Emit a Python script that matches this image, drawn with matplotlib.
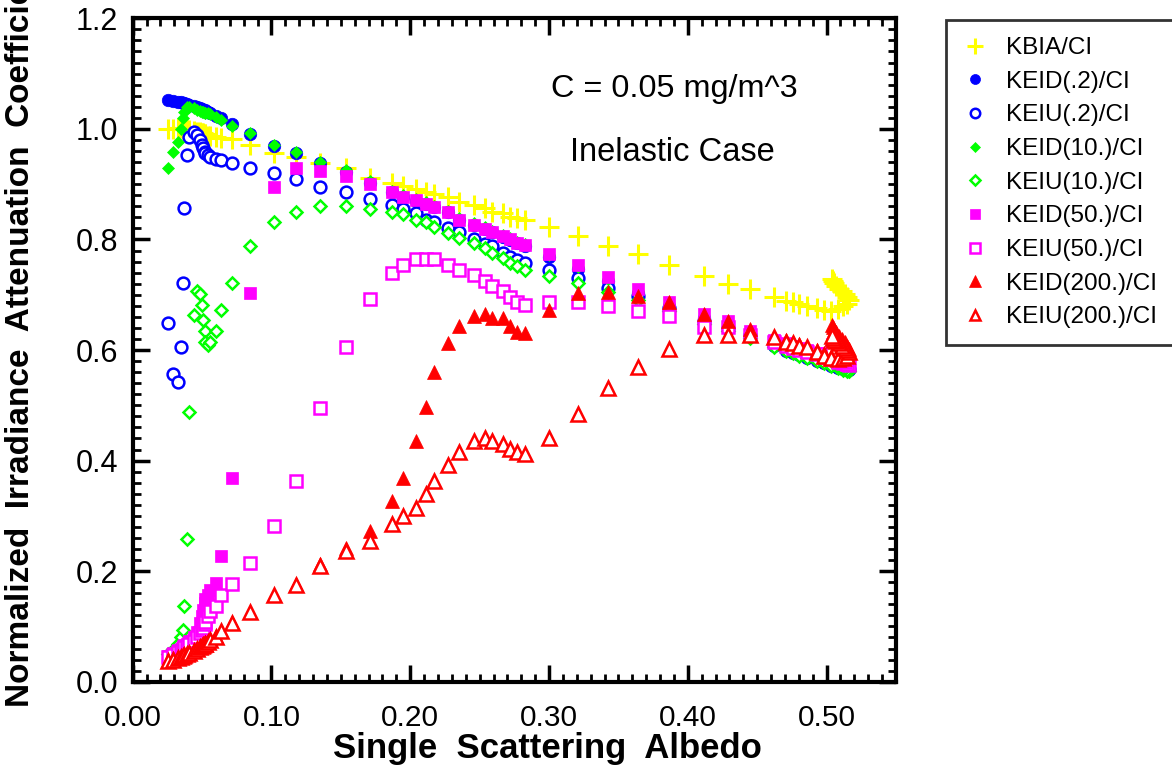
import matplotlib
matplotlib.use("Agg")
import matplotlib.pyplot as plt
from matplotlib.ticker import MultipleLocator, FormatStrFormatter

plt.rcParams['font.family'] = ['Liberation Sans', 'DejaVu Sans']

# Single scattering albedo shared by every series
albedo = [
    0.0252, 0.0288, 0.0329, 0.0348, 0.0363, 0.0372, 0.0389, 0.0404, 0.0442, 0.0460,
    0.0485, 0.0500, 0.0504, 0.0518, 0.0522, 0.0545, 0.0557, 0.0600, 0.0636,
    0.0713, 0.0845, 0.1018, 0.1174, 0.1350, 0.1540, 0.1710, 0.1866, 0.1945, 0.2040,
    0.2115, 0.2173, 0.2270, 0.2350, 0.2460, 0.2540, 0.2590, 0.2668, 0.2722, 0.2770,
    0.2830, 0.3000, 0.3212, 0.3423, 0.3638, 0.3868, 0.4120, 0.4290, 0.4450, 0.4620,
    0.4710, 0.4760, 0.4800, 0.4860, 0.4930,
    0.4980, 0.5030, 0.5080, 0.5120, 0.5150, 0.5160, 0.5150, 0.5130, 0.5110, 0.5090,
    0.5070, 0.5055, 0.5045, 0.5040,
]

kbia = [
    0.999, 1.000, 1.001, 1.001, 1.000, 0.999, 0.998, 0.998, 0.996, 0.995,
    0.994, 0.993, 0.992, 0.990, 0.990, 0.988, 0.987, 0.985, 0.983,
    0.981, 0.971, 0.957, 0.950, 0.938, 0.929, 0.911, 0.902, 0.897, 0.891,
    0.886, 0.882, 0.877, 0.868, 0.862, 0.856, 0.850, 0.847, 0.841, 0.838,
    0.835, 0.822, 0.806, 0.788, 0.773, 0.754, 0.733, 0.720, 0.711, 0.695,
    0.689, 0.686, 0.683, 0.680, 0.676,
    0.672, 0.670, 0.674, 0.679, 0.684, 0.690, 0.696, 0.701, 0.706, 0.711,
    0.716, 0.721, 0.725, 0.729,
]

keid_02 = [
    1.053, 1.051, 1.049, 1.048, 1.047, 1.046, 1.045, 1.044, 1.041, 1.040,
    1.038, 1.036, 1.035, 1.034, 1.033, 1.031, 1.029, 1.024, 1.019,
    1.008, 0.990, 0.969, 0.956, 0.938, 0.922, 0.902, 0.885, 0.877, 0.870,
    0.864, 0.858, 0.849, 0.835, 0.826, 0.819, 0.813, 0.805, 0.799, 0.793,
    0.789, 0.769, 0.747, 0.724, 0.703, 0.680, 0.658, 0.644, 0.629, 0.607,
    0.599, 0.595, 0.591, 0.585, 0.580,
    0.576, 0.571, 0.567, 0.565, 0.563, 0.563, 0.565, 0.568, 0.571, 0.574,
    0.577, 0.580, 0.583, 0.586,
]

keiu_02 = [
    0.649, 0.557, 0.542, 0.605, 0.721, 0.856, 0.953, 0.986, 0.995, 0.989,
    0.980, 0.971, 0.965, 0.959, 0.957, 0.953, 0.949, 0.946, 0.944,
    0.938, 0.929, 0.920, 0.909, 0.895, 0.885, 0.873, 0.862, 0.855, 0.847,
    0.835, 0.832, 0.820, 0.814, 0.800, 0.792, 0.788, 0.775, 0.768, 0.763,
    0.757, 0.745, 0.730, 0.712, 0.697, 0.676, 0.652, 0.640, 0.627, 0.611,
    0.602, 0.598, 0.594, 0.589, 0.584,
    0.579, 0.574, 0.570, 0.567, 0.565, 0.565, 0.567, 0.570, 0.573, 0.576,
    0.579, 0.582, 0.585, 0.588,
]

keid_10 = [
    0.929, 0.959, 0.977, 0.999, 1.019, 1.031, 1.040, 1.039, 1.037, 1.034,
    1.032, 1.031, 1.030, 1.029, 1.029, 1.028, 1.027, 1.022, 1.016,
    1.005, 0.992, 0.971, 0.959, 0.941, 0.925, 0.905, 0.888, 0.880, 0.873,
    0.867, 0.861, 0.852, 0.838, 0.829, 0.822, 0.816, 0.808, 0.802, 0.796,
    0.792, 0.772, 0.750, 0.728, 0.707, 0.684, 0.662, 0.648, 0.633, 0.612,
    0.604, 0.600, 0.596, 0.590, 0.585,
    0.580, 0.575, 0.571, 0.568, 0.566, 0.566, 0.568, 0.571, 0.574, 0.577,
    0.580, 0.583, 0.586, 0.589,
]

keiu_10 = [
    0.050, 0.058, 0.068, 0.080, 0.0935, 0.1375, 0.2576, 0.488, 0.663, 0.707,
    0.701, 0.681, 0.654, 0.634, 0.615, 0.609, 0.615, 0.634, 0.672,
    0.721, 0.788, 0.831, 0.850, 0.861, 0.861, 0.855, 0.850, 0.846, 0.836,
    0.832, 0.822, 0.812, 0.802, 0.793, 0.784, 0.775, 0.766, 0.758, 0.752,
    0.745, 0.734, 0.722, 0.705, 0.690, 0.670, 0.647, 0.635, 0.622, 0.606,
    0.598, 0.594, 0.590, 0.585, 0.580,
    0.576, 0.571, 0.567, 0.564, 0.562, 0.562, 0.564, 0.567, 0.570, 0.573,
    0.576, 0.579, 0.582, 0.585,
]

keid_50 = [
    0.047, 0.052, 0.057, 0.060, 0.063, 0.066, 0.069, 0.073, 0.080, 0.090,
    0.106, 0.118, 0.130, 0.142, 0.150, 0.157, 0.165, 0.178, 0.227,
    0.369, 0.703, 0.894, 0.929, 0.923, 0.914, 0.900, 0.885, 0.877, 0.871,
    0.865, 0.859, 0.850, 0.835, 0.826, 0.819, 0.814, 0.806, 0.800, 0.794,
    0.790, 0.774, 0.754, 0.732, 0.710, 0.686, 0.665, 0.652, 0.635, 0.618,
    0.612, 0.608, 0.604, 0.600, 0.595,
    0.590, 0.585, 0.582, 0.580, 0.578, 0.578, 0.581, 0.585, 0.589, 0.593,
    0.598, 0.602, 0.606, 0.610,
]

keiu_50 = [
    0.045, 0.049, 0.053, 0.056, 0.059, 0.062, 0.065, 0.068, 0.074, 0.080,
    0.088, 0.094, 0.098, 0.104, 0.108, 0.118, 0.127, 0.137, 0.156,
    0.176, 0.214, 0.282, 0.363, 0.495, 0.606, 0.692, 0.740, 0.754, 0.764,
    0.764, 0.764, 0.754, 0.745, 0.736, 0.725, 0.716, 0.706, 0.696, 0.687,
    0.681, 0.686, 0.686, 0.680, 0.671, 0.662, 0.642, 0.641, 0.628, 0.615,
    0.607, 0.603, 0.600, 0.597, 0.593,
    0.588, 0.583, 0.579, 0.576, 0.574, 0.573, 0.575, 0.578, 0.581, 0.584,
    0.587, 0.590, 0.593, 0.596,
]

keid_200 = [
    0.040, 0.042, 0.045, 0.047, 0.049, 0.050, 0.052, 0.054, 0.058, 0.061,
    0.064, 0.067, 0.068, 0.070, 0.071, 0.074, 0.077, 0.083, 0.092,
    0.108, 0.126, 0.157, 0.177, 0.212, 0.242, 0.272, 0.326, 0.368, 0.436,
    0.497, 0.560, 0.612, 0.643, 0.661, 0.666, 0.658, 0.658, 0.643, 0.633,
    0.630, 0.672, 0.703, 0.705, 0.698, 0.686, 0.665, 0.652, 0.638, 0.624,
    0.618, 0.614, 0.610, 0.606, 0.600,
    0.595, 0.590, 0.588, 0.590, 0.595, 0.602, 0.608, 0.614, 0.620, 0.626,
    0.632, 0.637, 0.641, 0.645,
]

keiu_200 = [
    0.038, 0.040, 0.043, 0.045, 0.047, 0.048, 0.050, 0.052, 0.056, 0.059,
    0.062, 0.065, 0.066, 0.068, 0.069, 0.072, 0.075, 0.081, 0.0917,
    0.107, 0.1255, 0.156, 0.1755, 0.209, 0.237, 0.255, 0.285, 0.300, 0.315,
    0.339, 0.363, 0.392, 0.416, 0.436, 0.440, 0.436, 0.430, 0.421, 0.416,
    0.411, 0.440, 0.484, 0.531, 0.570, 0.601, 0.627, 0.628, 0.627, 0.624,
    0.615, 0.612, 0.608, 0.605, 0.597,
    0.590, 0.585, 0.584, 0.586, 0.590, 0.596, 0.600, 0.604, 0.608, 0.612,
    0.616, 0.619, 0.622, 0.625,
]

series_labels = ["KBIA/CI", "KEID(.2)/CI", "KEIU(.2)/CI", "KEID(10.)/CI", "KEIU(10.)/CI",
                 "KEID(50.)/CI", "KEIU(50.)/CI", "KEID(200.)/CI", "KEIU(200.)/CI"]
series_values = [kbia, keid_02, keiu_02, keid_10, keiu_10, keid_50, keiu_50, keid_200, keiu_200]

# marker, colour, filled?, size
styles = [
    ("+", "#FFFF00", True, 14),
    ("o", "#0000FF", True, 9),
    ("o", "#0000FF", False, 8.5),
    ("D", "#00FF00", True, 6.5),
    ("D", "#00FF00", False, 6.0),
    ("s", "#FF00FF", True, 9),
    ("s", "#FF00FF", False, 8.5),
    ("^", "#FF0000", True, 10),
    ("^", "#FF0000", False, 9.5),
]

fig = plt.figure(figsize=(11.72, 7.70), dpi=100)
ax = fig.add_axes([0.1132, 0.1147, 0.6513, 0.8615])

handles = []
for label, yvals, (mk, col, filled, ms) in zip(series_labels, series_values, styles):
    if mk == "+":
        h, = ax.plot(albedo, yvals, linestyle="none", marker=mk, color=col,
                     markersize=ms, markeredgewidth=2.2, label=label)
    elif filled:
        h, = ax.plot(albedo, yvals, linestyle="none", marker=mk, color=col,
                     markerfacecolor=col, markeredgecolor=col, markersize=ms,
                     markeredgewidth=0.5, label=label)
    else:
        h, = ax.plot(albedo, yvals, linestyle="none", marker=mk, color=col,
                     markerfacecolor="white", markeredgecolor=col, markersize=ms,
                     markeredgewidth=1.8, label=label)
    handles.append(h)

ax.set_xlim(0.0, 0.55)
ax.set_ylim(0.0, 1.2)
ax.xaxis.set_major_locator(MultipleLocator(0.1))
ax.xaxis.set_minor_locator(MultipleLocator(0.01))
ax.yaxis.set_major_locator(MultipleLocator(0.2))
ax.yaxis.set_minor_locator(MultipleLocator(0.02))
ax.xaxis.set_major_formatter(FormatStrFormatter("%.2f"))
ax.yaxis.set_major_formatter(FormatStrFormatter("%.1f"))

ax.tick_params(which="both", direction="in", top=True, right=True, color="black")
ax.tick_params(which="major", length=12, width=2.5)
ax.tick_params(which="minor", length=6, width=2)
ax.tick_params(axis="x", which="major", pad=16, labelsize=21.5)
ax.tick_params(axis="y", which="major", pad=10.5, labelsize=22)
for sp in ax.spines.values():
    sp.set_linewidth(3)

ax.set_xlabel("Single  Scattering  Albedo", fontsize=25, fontweight="bold")
ax.xaxis.set_label_coords(0.543, -0.076)
ax.set_ylabel("Normalized  Irradiance  Attenuation  Coefficient", fontsize=24,
              fontweight="bold")
ax.yaxis.set_label_coords(-0.127, 0.529)

ax.text(0.71, 0.893, "C = 0.05 mg/m^3", transform=ax.transAxes, fontsize=23.3,
        ha="center", va="center")
ax.text(0.707, 0.797, "Inelastic Case", transform=ax.transAxes, fontsize=23.5,
        ha="center", va="center")

leg = fig.legend(handles=handles, loc="upper left",
                 bbox_to_anchor=(946 / 1172, 1 - 20 / 770), borderaxespad=0,
                 fontsize=17.5, frameon=True, fancybox=False, edgecolor="black",
                 handlelength=0.95, handletextpad=0.8, borderpad=0.7,
                 labelspacing=0.48, markerscale=0.8)
leg.get_frame().set_linewidth(2)

fig.savefig("out.png", dpi=100)
